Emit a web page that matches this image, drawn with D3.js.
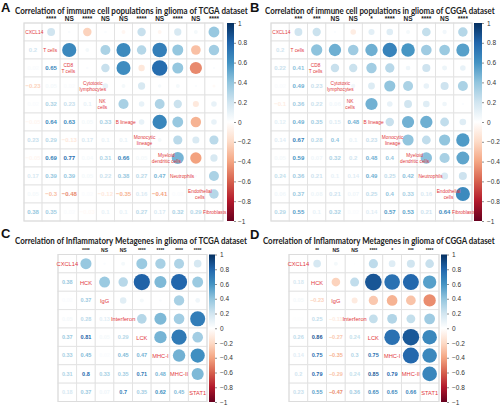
<!DOCTYPE html>
<html><head><meta charset="utf-8">
<script src="https://cdn.jsdelivr.net/npm/d3@7"></script>
<style>body{margin:0;background:#fff}svg{display:block}</style>
</head><body><svg id="chart" width="500" height="406"></svg>
<script>
// ---------- data ----------
const immuneNames = ["CXCL14","T cells","CD8\nT cells","Cytotoxic\nlymphocytes","NK\ncells","B lineage","Monocytic\nlineage","Myeloid\ndendritic cells","Neutrophils","Endothelial\ncells","Fibroblasts"];
const inflamNames = ["CXCL14","HCK","IgG","Interferon","LCK","MHC-I","MHC-II","STAT1"];

// lower triangles (row i, columns 0..i-1)
const corrTcgaImmune = [
  [],
  [0.2],
  [0.02, 0.65],
  [-0.23, 0.05, 0.02],
  [0.02, 0.32, 0.23, 0.1],
  [-0.05, 0.64, 0.63, 0.05, 0.33],
  [0.23, 0.29, -0.13, 0.17, 0.1, 0.1],
  [-0.05, 0.69, 0.77, 0.04, 0.31, 0.66, 0.05],
  [0.17, 0.39, 0.39, 0.05, 0.22, 0.38, 0.27, 0.47],
  [0.05, -0.3, -0.48, 0.02, -0.12, -0.35, 0.16, -0.41, 0.02],
  [0.38, 0.35, 0.02, -0.03, 0.1, 0.1, 0.27, 0.17, 0.32, 0.29]
];
const corrCggaImmune = [
  [],
  [0.2],
  [0.22, 0.41],
  [0.02, 0.49, 0.23],
  [-0.1, 0.36, 0.22, 0.06],
  [0.12, 0.49, 0.35, 0.15, 0.48],
  [0.14, 0.67, 0.28, 0.4, 0.1, 0.23],
  [0.05, 0.59, 0.07, 0.32, 0.2, 0.48, 0.4],
  [0.24, 0.36, 0.21, 0.1, 0.14, 0.49, 0.25, 0.42],
  [0.06, 0.37, 0.08, 0.21, 0.07, 0.25, 0.4, 0.33, 0.16],
  [0.29, 0.55, 0.1, 0.32, 0.02, 0.14, 0.57, 0.53, 0.21, 0.64]
];
const corrTcgaInflam = [
  [],
  [0.38],
  [0.02, 0.37],
  [0.05, 0.28, 0.13],
  [0.37, 0.81, 0.05, 0.29],
  [0.33, 0.45, 0.02, 0.45, 0.47],
  [0.31, 0.8, 0.33, 0.35, 0.71, 0.48],
  [0.18, 0.37, 0.07, 0.7, 0.35, 0.62, 0.45]
];
const corrCggaInflam = [
  [],
  [0.18],
  [0.05, -0.23],
  [0.01, 0.25, -0.11],
  [0.26, 0.86, -0.27, 0.24],
  [0.14, 0.75, -0.35, 0.3, 0.75],
  [0.2, 0.79, -0.29, 0.24, 0.85, 0.79],
  [0.23, 0.55, -0.47, 0.36, 0.65, 0.65, 0.66]
];

const sigTcgaImmune = ["****","NS","****","NS","NS","****","NS","****","NS","****"];
const sigCggaImmune = ["***","***","NS","NS","*","****","NS","****","NS","****"];
const sigTcgaInflam = ["****","NS","NS","****","****","****","****"];
const sigCggaInflam = ["**","NS","NS","****","*","***","****"];

const titles = [
  "Correlation of  immune cell populations in glioma of TCGA dataset",
  "Correlation of  immune cell populations in glioma of CGGA dataset",
  "Correlation of  Inflammatory Metagenes in glioma of TCGA dataset",
  "Correlation of  Inflammatory Metagenes in glioma of CGGA dataset"
];
const panelLetters = ["A","B","C","D"];
const colorbarTicks = [1,0.8,0.6,0.4,0.2,0,-0.2,-0.4,-0.6,-0.8,-1];
const rdbuStops = [-1,-0.8,-0.6,-0.4,-0.2,0,0.2,0.4,0.6,0.8,1];
const rdbuColors = ["#67001F","#B2182B","#D6604D","#F4A582","#FDDBC7","#FFFFFF","#D1E5F0","#92C5DE","#4393C3","#2166AC","#053061"];

// ---------- drawing ----------
const svg = d3.select("#chart");
const color = d3.scaleLinear().domain(rdbuStops).range(rdbuColors).interpolate(d3.interpolateRgb);
const fmt = v => (v < 0 ? "\u2212" : "") + String(Math.abs(v));

const defs = svg.append("defs");
const grad = defs.append("linearGradient").attr("id","rdbu").attr("x1",0).attr("y1",1).attr("x2",0).attr("y2",0);
rdbuStops.forEach((s,i)=>grad.append("stop").attr("offset",(s+1)/2).attr("stop-color",rdbuColors[i]));

const panels = [
  {names: immuneNames, lower: corrTcgaImmune, sig: sigTcgaImmune, letter:[1,12], title:[15,13.5,233], sigY:20.7, sigFs:6.5,
   grid:[24,223,23,221], cb:[227,234,23,221], cbLab:238, numFs:6, labFs:4.8, lineGap:6.4, labAlign:"start"},
  {names: immuneNames, lower: corrCggaImmune, sig: sigCggaImmune, letter:[250,12], title:[265,13.5,230], sigY:20.7, sigFs:6.5,
   grid:[271,472,23,221], cb:[474,482,23,221], cbLab:487, numFs:6, labFs:4.8, lineGap:6.4, labAlign:"start"},
  {names: inflamNames, lower: corrTcgaInflam, sig: sigTcgaInflam, letter:[1,238], title:[15,243.5,232], sigY:252, sigFs:5,
   grid:[58,207,254.5,401.5], cb:[209,215,254.5,402], cbLab:220, numFs:5.5, labFs:5.7, lineGap:6.6, labAlign:"middle"},
  {names: inflamNames, lower: corrCggaInflam, sig: sigCggaInflam, letter:[250,238.5], title:[263,243.5,232], sigY:252, sigFs:5,
   grid:[289,439,254.5,401.5], cb:[441,447,254.5,402], cbLab:452, numFs:5.5, labFs:5.7, lineGap:6.6, labAlign:"middle"}
];

panels.forEach((p, pi) => {
  const g = svg.append("g");
  const n = p.names.length;
  const val = (i,j) => i===j ? 1 : (i>j ? p.lower[i][j] : p.lower[j][i]);
  const x = d3.scaleBand().domain(d3.range(n)).range([p.grid[0], p.grid[1]]);
  const y = d3.scaleBand().domain(d3.range(n)).range([p.grid[2], p.grid[3]]);
  const bw = x.bandwidth(), bh = y.bandwidth(), cs = Math.min(bw,bh);

  // letter + title
  g.append("text").attr("x",p.letter[0]).attr("y",p.letter[1]).text(panelLetters[pi])
    .attr("font-family","Liberation Sans, Arial, sans-serif").attr("font-weight","bold").attr("font-size",13).attr("fill","#111");
  const t = g.append("text").attr("x",0).attr("y",0).text(titles[pi])
    .attr("font-family","Lato, Liberation Sans, sans-serif").attr("font-weight",700).attr("font-size",9.6).attr("fill","#222");
  const natural = t.node().getComputedTextLength();
  t.attr("transform",`translate(${p.title[0]},${p.title[1]}) scale(${p.title[2]/natural},1)`);

  // significance labels above columns 1..n-1
  g.selectAll(".sig").data(p.sig).join("text")
    .attr("x",(d,k)=>x(k+1)+bw/2).attr("y",p.sigY).attr("text-anchor","middle").text(d=>d)
    .attr("font-family","Liberation Sans, Arial, sans-serif").attr("font-weight","bold")
    .attr("font-size",p.sigFs).attr("fill","#222");

  // cells
  const cells = [];
  for (let i=0;i<n;i++) for (let j=0;j<n;j++) cells.push({i,j,v:val(i,j)});
  g.selectAll(".cell").data(cells).join("rect")
    .attr("x",d=>x(d.j)).attr("y",d=>y(d.i)).attr("width",bw).attr("height",bh)
    .attr("fill","#fff").attr("stroke","#e2e2e2").attr("stroke-width",0.9);
  g.append("rect").attr("x",p.grid[0]).attr("y",p.grid[2]).attr("width",p.grid[1]-p.grid[0]).attr("height",p.grid[3]-p.grid[2])
    .attr("fill","none").attr("stroke","#dcdcdc").attr("stroke-width",1);

  // circles (upper)
  g.selectAll(".circ").data(cells.filter(d=>d.j>d.i)).join("circle")
    .attr("cx",d=>x(d.j)+bw/2).attr("cy",d=>y(d.i)+bh/2)
    .attr("r",d=>0.49*Math.sqrt(Math.abs(d.v))*cs).attr("fill",d=>color(d.v));

  // numbers (lower)
  g.selectAll(".num").data(cells.filter(d=>d.j<d.i)).join("text")
    .attr("x",d=>x(d.j)+bw/2).attr("y",d=>y(d.i)+bh/2).attr("dy","0.35em")
    .attr("text-anchor","middle").text(d=>fmt(d.v))
    .attr("font-family","Liberation Sans, Arial, sans-serif").attr("font-weight","bold")
    .attr("font-size",p.numFs).attr("fill",d=>color(d.v));

  // diagonal labels
  p.names.forEach((name,i)=>{
    const lines = name.split("\n");
    const cy = y(i)+bh/2;
    const texts = lines.map((ln,k)=> g.append("text")
        .attr("y",cy + (k-(lines.length-1)/2)*p.lineGap + 0.5)
        .attr("dy","0.35em").attr("text-anchor","middle").text(ln)
        .attr("font-family","Liberation Sans, Arial, sans-serif")
        .attr("font-size",p.labFs).attr("fill","#e2383c"));
    const widths = texts.map(t=>t.node().getComputedTextLength());
    const maxW = d3.max(widths);
    let cx;
    if (p.labAlign === "start") {
      const left = Math.min(x(i)+1.2, p.grid[1]+3.5-maxW);
      cx = left + maxW/2;
    } else {
      cx = x(i)+bw/2;
    }
    texts.forEach(t=>t.attr("x",cx));
  });

  // colorbar
  g.append("rect").attr("x",p.cb[0]).attr("y",p.cb[2]).attr("width",p.cb[1]-p.cb[0]).attr("height",p.cb[3]-p.cb[2])
    .attr("fill","url(#rdbu)");
  const cyS = d3.scaleLinear().domain([-1,1]).range([p.cb[3],p.cb[2]]);
  const ax = g.append("g").attr("transform",`translate(${p.cb[1]},0)`)
    .call(d3.axisRight(cyS).tickValues(colorbarTicks).tickSize(2).tickPadding(p.cbLab-p.cb[1]-2)
      .tickFormat(v=>v===0?"0":fmt(+v.toFixed(1))));
  ax.select(".domain").remove();
  ax.selectAll("line").attr("stroke","#444").attr("stroke-width",0.6);
  ax.selectAll("text").attr("font-family","Liberation Sans, Arial, sans-serif").attr("font-size",6.5).attr("fill","#333");
});
</script>
</body></html>
